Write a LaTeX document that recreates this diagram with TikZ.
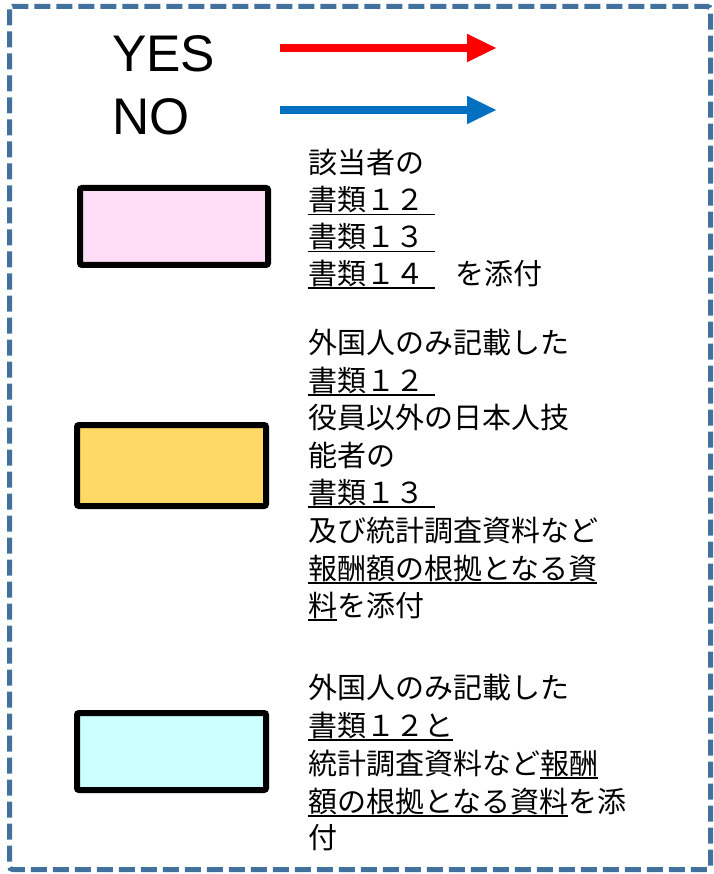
\documentclass[tikz,border=0pt]{standalone}
\usepackage{fontspec}
\setmainfont{Liberation Sans}
\newfontfamily\jp{Noto Sans CJK JP}
\usetikzlibrary{arrows.meta}
\definecolor{borderblue}{HTML}{41719C}
\definecolor{yesred}{HTML}{FF0000}
\definecolor{noblue}{HTML}{0070C0}
\definecolor{pinkfill}{HTML}{FFDDF6}
\definecolor{goldfill}{HTML}{FFD966}
\definecolor{cyanfill}{HTML}{CCFFFF}
\newcommand\ulj[1]{\setbox0\hbox{#1}\rlap{\rule[-4.5pt]{\wd0}{1.6pt}}\box0}
\begin{document}
\begin{tikzpicture}[x=1pt,y=-1pt,
  frame/.style={draw=borderblue,line width=5pt,dash pattern=on 16pt off 6pt,rounded corners=3pt},
  bigtxt/.style={anchor=base west,inner sep=0pt,font=\fontsize{51.5}{51.5}\selectfont},
  jtxt/.style={anchor=base west,inner sep=0pt,font=\jp\fontsize{29}{29}\selectfont},
  legendarrow/.style={line width=8pt,-{Triangle[length=30pt,width=26pt]}},
  swatch/.style={draw=black,line width=6pt,rounded corners=2pt}]
\useasboundingbox (0,0) rectangle (713,874);
\draw[frame] (9.5,6.5) rectangle (710.5,869.5);
% YES / NO legend
\node[bigtxt] (yes) at (112,72) {YES};
\node[bigtxt] (no) at (112,135) {NO};
\coordinate (ya) at (280,48);
\coordinate (yb) at (497,48);
\coordinate (na) at (280,110);
\coordinate (nb) at (497,110);
\draw[legendarrow,draw=yesred,fill=yesred] (ya) -- (yb);
\draw[legendarrow,draw=noblue,fill=noblue] (na) -- (nb);
% swatches
\draw[swatch,fill=pinkfill] (80,188) rectangle (268,265);
\draw[swatch,fill=goldfill] (77,425) rectangle (266,506);
\draw[swatch,fill=cyanfill] (77,713) rectangle (266,790);
% block 1
\node[jtxt] (a1) at (308,174) {該当者の};
\node[jtxt] (a2) at (308,211) {\ulj{書類１２\hspace{11pt}}};
\node[jtxt] (a3) at (308,248) {\ulj{書類１３\hspace{11pt}}};
\node[jtxt] (a4) at (308,284) {\ulj{書類１４\hspace{11pt}}\hspace{20pt}を添付};
% block 2
\node[jtxt] (b1) at (308,353) {外国人のみ記載した};
\node[jtxt] (b2) at (308,391) {\ulj{書類１２\hspace{11pt}}};
\node[jtxt] (b3) at (308,428) {役員以外の日本人技};
\node[jtxt] (b4) at (308,466) {能者の};
\node[jtxt] (b5) at (308,503) {\ulj{書類１３\hspace{11pt}}};
\node[jtxt] (b6) at (308,541) {及び統計調査資料など};
\node[jtxt] (b7) at (308,579) {\ulj{報酬額の根拠となる資}};
\node[jtxt] (b8) at (308,616) {\ulj{料}を添付};
% block 3
\node[jtxt] (c1) at (308,698) {外国人のみ記載した};
\node[jtxt] (c2) at (308,736) {\ulj{書類１２と}};
\node[jtxt] (c3) at (308,774) {統計調査資料など\ulj{報酬}};
\node[jtxt] (c4) at (308,812) {\ulj{額の根拠となる資料}を添};
\node[jtxt] (c5) at (308,848) {付};
\end{tikzpicture}
\end{document}
